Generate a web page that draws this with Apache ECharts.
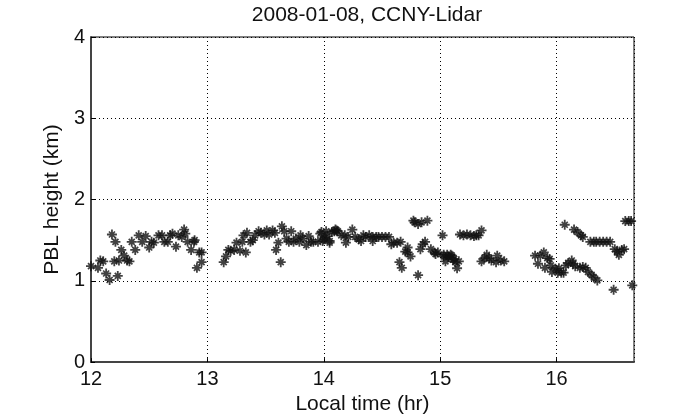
<!DOCTYPE html>
<html>
<head>
<meta charset="utf-8">
<script src="https://cdn.jsdelivr.net/npm/echarts@6/dist/echarts.min.js"></script>
<style>html,body{margin:0;padding:0;background:#fff;}#c{width:700px;height:420px;}</style>
</head>
<body>
<div id="c"></div>
<script>
const titleText = "2008-01-08, CCNY-Lidar";
const xName = "Local time (hr)";
const yName = "PBL height (km)";
const xTicks = [12, 13, 14, 15, 16];
const yTicks = [0, 1, 2, 3, 4];
const xMin = 12, xMax = 16.665, yMin = 0, yMax = 4;

const timeHr = [
12.00,12.06,12.08,12.105,12.13,12.16,12.23,12.18,12.21,12.20,12.24,12.26,12.285,12.31,12.33,12.35,12.38,12.41,12.44,12.47,
12.50,12.52,12.54,12.58,12.61,12.63,12.66,12.68,12.70,12.73,12.75,12.78,12.80,12.81,12.83,12.86,12.885,12.89,12.93,12.91,
12.95,12.95,
13.14,13.16,13.18,13.20,13.23,13.25,13.28,13.30,13.31,13.33,13.34,13.37,13.39,13.41,13.44,13.46,13.49,13.51,13.53,13.56,
13.58,13.59,13.61,13.63,13.64,13.66,13.68,13.70,13.72,13.74,13.76,13.79,13.80,13.82,13.85,13.87,13.89,13.91,13.95,13.97,
14.00,14.01,14.03,14.05,14.07,14.09,14.11,13.98,13.99,14.02,14.05,14.10,14.12,14.15,14.18,14.19,14.21,14.245,14.27,14.30,
14.32,14.34,14.36,14.39,14.42,14.42,14.45,14.47,14.50,14.53,14.56,14.58,14.60,14.63,14.66,14.65,14.67,14.70,14.72,14.72,
14.745,14.77,14.78,14.81,14.81,14.84,14.83,14.85,14.87,14.89,14.92,14.95,14.96,14.98,15.02,15.03,15.06,15.07,15.10,15.11,
15.145,15.03,15.045,15.07,15.09,15.12,15.13,15.16,15.17,15.20,15.23,15.26,15.29,15.31,15.33,15.355,15.355,15.38,15.40,15.42,
15.44,15.49,15.48,15.52,15.55,
15.815,15.84,15.86,15.89,15.90,15.92,15.94,15.95,15.96,15.99,16.01,16.02,16.04,16.06,16.07,16.08,16.10,16.13,16.14,16.15,
16.16,16.18,16.20,16.21,16.225,16.225,16.25,16.27,16.29,16.30,16.32,16.32,16.35,16.34,16.37,16.40,16.43,16.46,16.49,16.50,
16.52,16.535,16.56,16.58,16.59,16.62,16.64,16.65
];
const pblKm = [
1.18,1.16,1.25,1.24,1.09,1.01,1.06,1.57,1.48,1.24,1.25,1.38,1.31,1.25,1.24,1.48,1.38,1.56,1.48,1.55,
1.41,1.48,1.47,1.56,1.56,1.48,1.48,1.56,1.58,1.42,1.56,1.54,1.63,1.58,1.48,1.38,1.48,1.50,1.35,1.16,
1.23,1.35,
1.23,1.30,1.38,1.37,1.38,1.47,1.37,1.48,1.56,1.35,1.59,1.48,1.50,1.56,1.61,1.59,1.57,1.62,1.57,1.62,
1.59,1.38,1.47,1.23,1.67,1.61,1.52,1.48,1.61,1.48,1.52,1.48,1.56,1.52,1.44,1.55,1.48,1.48,1.48,1.58,
1.51,1.53,1.55,1.49,1.60,1.61,1.62,1.60,1.49,1.61,1.47,1.63,1.61,1.56,1.56,1.47,1.54,1.63,1.54,1.51,
1.49,1.56,1.54,1.56,1.54,1.49,1.54,1.54,1.54,1.54,1.54,1.45,1.47,1.47,1.48,1.23,1.16,1.36,1.41,1.35,
1.30,1.74,1.72,1.07,1.70,1.72,1.39,1.45,1.48,1.74,1.39,1.35,1.33,1.35,1.56,1.32,1.32,1.29,1.31,1.26,
1.155,1.30,1.24,1.30,1.32,1.27,1.23,1.24,1.57,1.56,1.57,1.56,1.55,1.56,1.56,1.62,1.24,1.28,1.32,1.28,
1.25,1.31,1.23,1.25,1.24,
1.31,1.21,1.31,1.35,1.16,1.28,1.27,1.19,1.11,1.15,1.10,1.155,1.10,1.10,1.69,1.19,1.22,1.25,1.21,1.63,
1.18,1.60,1.16,1.56,1.54,1.17,1.16,1.11,1.48,1.075,1.48,1.04,1.005,1.48,1.48,1.48,1.48,1.48,0.89,1.39,
1.36,1.32,1.38,1.39,1.735,1.735,1.735,0.945
];

const points = timeHr.map((t, i) => [t, pblKm[i]]);
const star = 'path://M0,4.1H10V5.9H0Z M4.1,0H5.9V10H4.1Z M1.4,2.6L2.6,1.4L8.6,7.4L7.4,8.6Z M7.4,1.4L8.6,2.6L2.6,8.6L1.4,7.4Z M3.2,3.2H6.8V6.8H3.2Z';
const font = '"Liberation Sans", Arial, sans-serif';

const chart = echarts.init(document.getElementById('c'), null, {renderer: 'canvas'});
chart.setOption({
  animation: false,
  backgroundColor: '#fff',
  title: {
    text: titleText, left: 362, top: 0, textAlign: 'center',
    textStyle: {fontFamily: font, fontSize: 21, fontWeight: 'normal', color: '#111'}
  },
  grid: {left: 91, right: 66, top: 37, bottom: 54, show: true, borderColor: '#000', borderWidth: 1, backgroundColor: 'transparent'},
  xAxis: {
    type: 'value', min: xMin, max: xMax, interval: 1,
    name: xName, nameLocation: 'middle', nameGap: 29,
    nameTextStyle: {fontFamily: font, fontSize: 21, color: '#111'},
    axisLine: {show: true, lineStyle: {color: '#444', width: 2}},
    axisTick: {show: true, inside: true, length: 4, lineStyle: {color: '#000'}},
    axisLabel: {fontFamily: font, fontSize: 20, color: '#111', margin: 7, showMaxLabel: false,
      formatter: v => xTicks.indexOf(Math.round(v*1000)/1000) >= 0 ? String(v) : ''},
    splitLine: {show: true, lineStyle: {color: '#000', type: [1, 3], width: 1}}
  },
  yAxis: {
    type: 'value', min: yMin, max: yMax, interval: 1,
    name: yName, nameLocation: 'middle', nameGap: 24,
    nameTextStyle: {fontFamily: font, fontSize: 21, color: '#111'},
    axisLine: {show: true, lineStyle: {color: '#444', width: 2}},
    axisTick: {show: true, inside: true, length: 4, lineStyle: {color: '#000'}},
    axisLabel: {fontFamily: font, fontSize: 20, color: '#111', margin: 6,
      formatter: v => yTicks.indexOf(v) >= 0 ? String(v) : ''},
    splitLine: {show: true, lineStyle: {color: '#000', type: [1, 3], width: 1}}
  },
  series: [{
    type: 'scatter', data: points, symbol: star, symbolSize: 10,
    itemStyle: {color: '#111'}, silent: true
  }]
});
</script>
</body>
</html>
